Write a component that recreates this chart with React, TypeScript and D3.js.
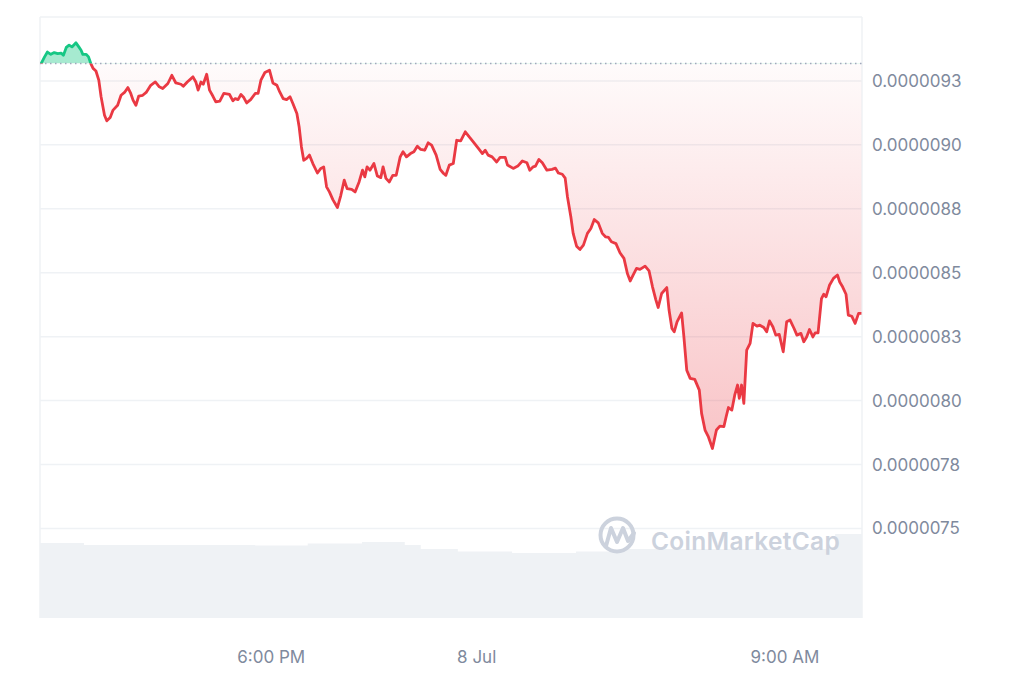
import React from 'react';
import * as d3 from 'd3';

// Price in units of 1e-6, sampled at minutes after the window start (7 Jul 11:15)
const minutes = [
  2, 8, 13, 19, 25, 31, 37, 41, 46, 51, 56, 63, 68, 72, 75, 81, 85, 89, 93, 98,
  103, 107, 113, 117, 123, 128, 136, 142, 148, 154, 159, 163, 168, 173, 180, 186, 194, 202, 209, 215,
  224, 231, 238, 247, 251, 258, 268, 273, 277, 282, 286, 292, 297, 303, 308, 315, 322, 332, 338, 342,
  347, 352, 357, 362, 369, 377, 382, 387, 394, 402, 408, 415, 420, 426, 432, 438, 443, 450, 454, 458,
  462, 467, 472, 478, 486, 492, 497, 502, 507, 513, 521, 527, 533, 538, 546, 552, 559, 565, 569, 573,
  578, 585, 591, 597, 601, 606, 612, 618, 624, 631, 636, 642, 649, 655, 661, 667, 674, 680, 686, 694,
  701, 707, 711, 717, 724, 730, 737, 745, 752, 759, 768, 775, 780, 785, 792, 800, 806, 815, 819, 829,
  837, 845, 853, 858, 864, 868, 874, 880, 888, 897, 903, 908, 915, 920, 924, 930, 934, 940, 946, 952,
  959, 965, 971, 978, 985, 991, 996, 1001, 1009, 1016, 1023, 1029, 1034, 1039, 1045, 1051, 1060, 1067, 1073, 1079,
  1083, 1089, 1098, 1102, 1107, 1111, 1116, 1124, 1128, 1133, 1139, 1147, 1155, 1159, 1165, 1171, 1178, 1185, 1191, 1198,
  1202, 1206, 1212, 1217, 1222, 1225, 1229, 1233, 1238, 1244, 1249, 1256, 1261, 1268, 1273, 1278, 1284, 1289, 1295, 1302,
  1308, 1314, 1321, 1326, 1333, 1338, 1343, 1348, 1354, 1358, 1363, 1369, 1373, 1377, 1383, 1390, 1397, 1401, 1406, 1412,
  1416, 1422, 1428, 1434, 1439,
];

const prices = [
  9.318, 9.344, 9.363, 9.354, 9.361, 9.357, 9.359, 9.35, 9.381, 9.39, 9.383, 9.399, 9.383, 9.37, 9.354, 9.354, 9.344, 9.318, 9.299, 9.289,
  9.253, 9.188, 9.116, 9.094, 9.107, 9.136, 9.155, 9.194, 9.205, 9.224, 9.201, 9.175, 9.155, 9.191, 9.194, 9.205, 9.233, 9.246, 9.227, 9.22,
  9.24, 9.272, 9.242, 9.237, 9.229, 9.246, 9.266, 9.246, 9.214, 9.246, 9.237, 9.276, 9.214, 9.19, 9.168, 9.171, 9.201, 9.197, 9.172, 9.181,
  9.177, 9.197, 9.185, 9.164, 9.177, 9.201, 9.201, 9.253, 9.283, 9.292, 9.242, 9.233, 9.207, 9.181, 9.177, 9.188, 9.162, 9.123, 9.07, 8.992,
  8.94, 8.947, 8.96, 8.927, 8.89, 8.908, 8.914, 8.836, 8.816, 8.786, 8.755, 8.803, 8.862, 8.829, 8.826, 8.816, 8.855, 8.901, 8.875, 8.914,
  8.901, 8.927, 8.878, 8.872, 8.914, 8.869, 8.855, 8.881, 8.881, 8.953, 8.973, 8.953, 8.966, 8.973, 8.995, 8.982, 8.979, 9.008, 8.999, 8.96,
  8.904, 8.888, 8.881, 8.921, 8.927, 9.018, 9.016, 9.051, 9.031, 9.012, 8.986, 8.966, 8.979, 8.96, 8.953, 8.933, 8.951, 8.951, 8.921, 8.908,
  8.917, 8.937, 8.93, 8.901, 8.914, 8.917, 8.943, 8.93, 8.901, 8.904, 8.909, 8.89, 8.885, 8.87, 8.797, 8.718, 8.654, 8.604, 8.591, 8.608,
  8.654, 8.673, 8.708, 8.695, 8.654, 8.64, 8.638, 8.621, 8.614, 8.578, 8.556, 8.497, 8.468, 8.491, 8.517, 8.513, 8.526, 8.507, 8.445, 8.393,
  8.364, 8.419, 8.442, 8.354, 8.282, 8.269, 8.308, 8.343, 8.249, 8.119, 8.087, 8.083, 8.041, 7.95, 7.885, 7.858, 7.813, 7.885, 7.9, 7.898,
  7.937, 7.973, 7.963, 8.021, 8.061, 8.009, 8.061, 7.989, 8.197, 8.224, 8.302, 8.291, 8.295, 8.286, 8.269, 8.312, 8.288, 8.256, 8.259, 8.191,
  8.308, 8.315, 8.282, 8.256, 8.263, 8.23, 8.249, 8.278, 8.249, 8.265, 8.265, 8.399, 8.416, 8.406, 8.451, 8.478, 8.491, 8.464, 8.445, 8.416,
  8.334, 8.33, 8.302, 8.341, 8.341,
];

// Volume band (relative units), level changes at these minutes
const volMinutes = [0, 77, 377, 469, 564, 639, 667, 732, 827, 939, 1014, 1393, 1440];
const volValues = [75, 73, 72.5, 74.5, 76, 73, 69, 66.5, 65, 66.5, 69, 84, 84];

const yTicks = [9.25, 9.0, 8.75, 8.5, 8.25, 8.0, 7.75, 7.5];
const yTickLabels = ['0.0000093', '0.0000090', '0.0000088', '0.0000085', '0.0000083', '0.0000080', '0.0000078', '0.0000075'];

const xTickTimes = [new Date(2024, 6, 7, 18, 0), new Date(2024, 6, 8, 0, 0), new Date(2024, 6, 8, 9, 0)];
const xTickLabels = ['6:00 PM', '8 Jul', '9:00 AM'];

const START = new Date(2024, 6, 7, 11, 15);
const END = new Date(2024, 6, 8, 11, 15);

const W = 1024;
const H = 683;
const left = 40;
const right = 862;
const top = 17;
const bottom = 618;

const RED = '#ea3943';
const GREEN = '#16c784';
const GRID = '#eff2f5';
const LABEL = '#808a9d';
const MARK = '#ccd2dd';

const toDate = (m: number) => new Date(START.getTime() + m * 60000);

const App: React.FC = () => {
  const data = minutes.map((m, i) => ({ t: toDate(m), p: prices[i] }));
  const vol = volMinutes.map((m, i) => ({ t: toDate(m), v: volValues[i] }));
  const base = prices[0];

  const x = d3.scaleTime().domain([START, END]).range([left, right]);
  const y = d3.scaleLinear().domain([7.15, 9.5]).range([bottom, top]);
  const yv = d3.scaleLinear().domain([0, 100]).range([bottom, bottom - 100]);

  const yb = y(base);
  const yMin = y(d3.min(prices) as number);

  const line = d3.line<{ t: Date; p: number }>()
    .x(d => x(d.t))
    .y(d => y(d.p));

  const area = d3.area<{ t: Date; p: number }>()
    .x(d => x(d.t))
    .y0(yb)
    .y1(d => y(d.p));

  const volArea = d3.area<{ t: Date; v: number }>()
    .x(d => x(d.t))
    .y0(bottom)
    .y1(d => yv(d.v))
    .curve(d3.curveStepAfter);

  return (
    <svg width={W} height={H} style={{ position: 'absolute', left: 0, top: 0, background: '#fff' }}
      fontFamily="Inter, 'Noto Sans', sans-serif">
      <defs>
        <clipPath id="above">
          <rect x={left} y={top} width={right - left} height={yb - top} />
        </clipPath>
        <clipPath id="below">
          <rect x={left} y={yb} width={right - left} height={bottom - yb} />
        </clipPath>
        <linearGradient id="redFill" gradientUnits="userSpaceOnUse" x1={0} x2={0} y1={yb} y2={yMin}>
          <stop offset="0%" stopColor={RED} stopOpacity={0.02} />
          <stop offset="100%" stopColor={RED} stopOpacity={0.3} />
        </linearGradient>
      </defs>

      {/* frame + grid */}
      <line x1={left} x2={right} y1={top} y2={top} stroke={GRID} strokeWidth={1.5} />
      <line x1={left} x2={left} y1={top} y2={bottom} stroke={GRID} strokeWidth={1.5} />
      <line x1={right} x2={right} y1={top} y2={bottom} stroke={GRID} strokeWidth={1.5} />
      {yTicks.map(t => (
        <line key={t} x1={left} x2={right} y1={y(t)} y2={y(t)} stroke={GRID} strokeWidth={1.5} />
      ))}

      {/* volume */}
      <path d={volArea(vol) || ''} fill="#eff2f5" />

      {/* fills */}
      <path d={area(data) || ''} fill={GREEN} fillOpacity={0.38} clipPath="url(#above)" />
      <path d={area(data) || ''} fill="url(#redFill)" clipPath="url(#below)" />

      {/* baseline */}
      <line x1={left} x2={right} y1={yb} y2={yb} stroke="#a1a7bb" strokeWidth={1.5} strokeDasharray="1.5 3.5" />

      {/* price line */}
      <path d={line(data) || ''} fill="none" stroke={GREEN} strokeWidth={2.8} strokeLinejoin="round" clipPath="url(#above)" />
      <path d={line(data) || ''} fill="none" stroke={RED} strokeWidth={2.8} strokeLinejoin="round" clipPath="url(#below)" />

      {/* watermark */}
      <g>
        <circle cx={617} cy={535} r={16.5} fill="none" stroke={MARK} strokeWidth={4} />
        <path d="M606,546 L611,528 L617,542 L623,528 L628,541 L634,533" fill="none" stroke={MARK}
          strokeWidth={4} strokeLinejoin="round" strokeLinecap="round" />
        <text x={651} y={550} fontSize={24.5} fontWeight={600} letterSpacing={0.3} fill={MARK}>CoinMarketCap</text>
      </g>

      {/* y labels */}
      {yTicks.map((t, i) => (
        <text key={t} x={872} y={y(t)} dy="0.35em" fontSize={17} fill={LABEL}>{yTickLabels[i]}</text>
      ))}

      {/* x labels */}
      {xTickTimes.map((t, i) => (
        <text key={i} x={x(t)} y={663} textAnchor="middle" fontSize={17} fill={LABEL}>{xTickLabels[i]}</text>
      ))}
    </svg>
  );
};

export default App;
